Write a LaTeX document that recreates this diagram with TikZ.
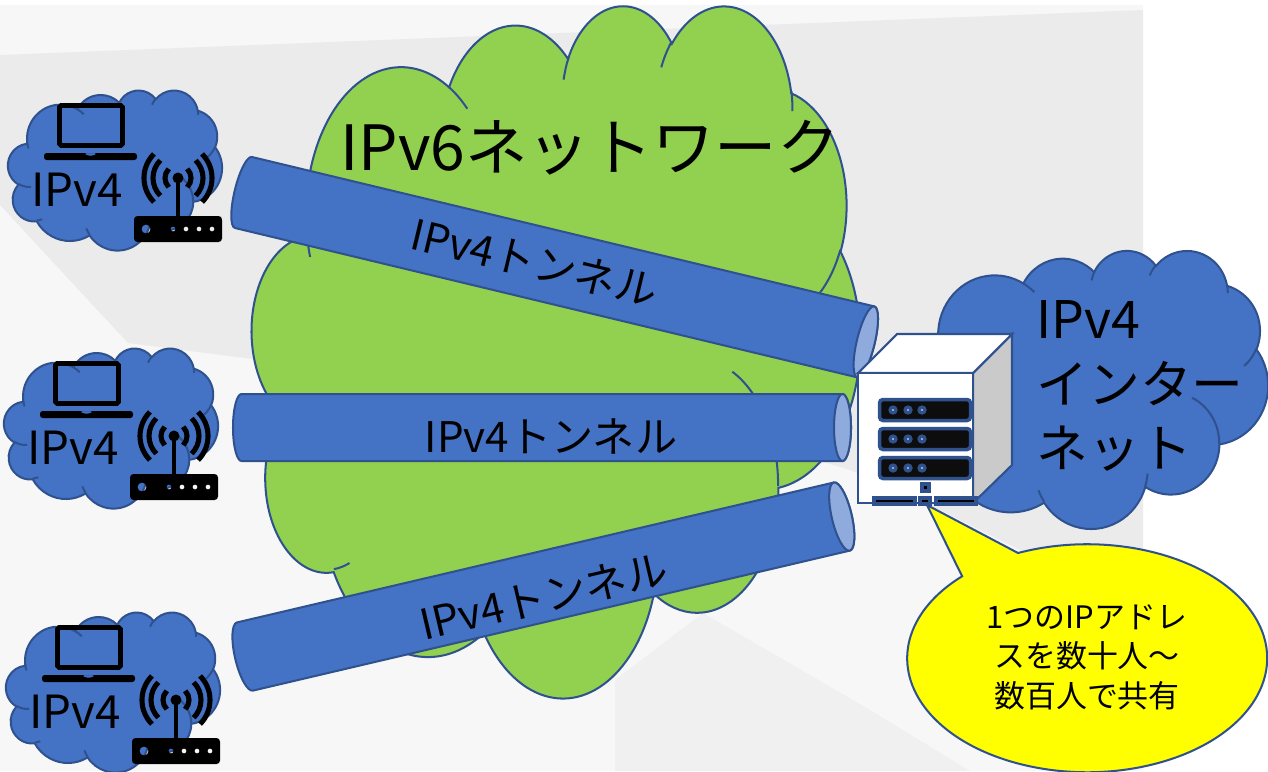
\documentclass[tikz,border=0pt]{standalone}
\usepackage{fontspec}
\setmainfont{Noto Sans CJK JP}
\usetikzlibrary{positioning}

\definecolor{netblue}{HTML}{4472C4}
\definecolor{edgeblue}{HTML}{2F528F}
\definecolor{pipeend}{HTML}{8FAADC}
\definecolor{netgreen}{HTML}{92D050}
\definecolor{bubble}{HTML}{FFFF00}
\definecolor{sideface}{HTML}{CACACA}

\pgfmathdeclarefunction{cloudt}{3}{\pgfmathparse{atan2(#1*sin(#3),#2*cos(#3))}}
\def\cloudarcs{6.753/9.19/-190.4875/123.7805, 5.333/7.267/-144.1024/89.9452,
  4.365/5.945/-145.8079/99.723, 4.857/6.595/-130.9861/117.2417,
  5.333/7.273/-78.7089/109.0269, 6.775/9.22/-46.2673/130.269,
  5.785/7.867/0.625/114.0333, 6.752/9.215/22.4516/115.1726,
  7.72/10.543/66.2426/75.711, 4.36/5.918/-274.9421/146.7356,
  4.345/5.945/-246.8285/152.5189}
\def\cloudticks{4.693/26.177/4.345/5.945/86.742/26.4295,
  6.928/34.899/4.36/5.918/73.6105/11.4475,
  16.478/39.09/6.752/9.215/137.6242/14.0811,
  28.827/34.751/6.752/9.215/6.4533/15.9984,
  34.129/22.954/5.785/7.867/-70.2924/70.9174,
  41.798/15.354/5.333/7.273/30.318/27.7515,
  38.324/5.426/4.857/6.595/-13.7443/14.8589,
  29.078/3.952/4.857/6.595/-149.1815/18.1954,
  22.141/4.72/4.365/5.945/-163.4943/17.6864,
  14/5.192/6.753/9.19/-66.707/12.3194,
  4.127/15.789/6.753/9.19/157.6544/11.8582}

\newcommand{\cloudshape}[5]{
  \begin{scope}[shift={(#1,#2)},xscale=#3/43.2,yscale=#4/43.2]
    \draw[outline, fill=#5] (3.9,14.37)
      \foreach \wr/\hr/\st/\sw in \cloudarcs {
        arc[x radius=\wr, y radius=\hr, start angle={cloudt(\wr,\hr,\st)},
            delta angle={mod(cloudt(\wr,\hr,\st+\sw)-cloudt(\wr,\hr,\st)+720,360)}]
      } -- cycle;
    \foreach \px/\py/\wr/\hr/\st/\sw in \cloudticks {
      \draw[outline] (\px,\py)
        arc[x radius=\wr, y radius=\hr, start angle={cloudt(\wr,\hr,\st)},
            delta angle={mod(cloudt(\wr,\hr,\st+\sw)-cloudt(\wr,\hr,\st)+720,360)}];
    }
  \end{scope}
}

\newcommand{\tunnelpipe}[6]{
  \begin{scope}[shift={(#1,#2)},rotate=#3]
    \draw[outline, fill=netblue] (0,-#5/2) -- (#4,-#5/2)
      arc[x radius=#6, y radius=#5/2, start angle=-90, end angle=90]
      -- (0,#5/2)
      arc[x radius=#6, y radius=#5/2, start angle=90, end angle=270] -- cycle;
    \draw[outline, fill=pipeend] (#4,0) ellipse[x radius=#6, y radius=#5/2];
  \end{scope}
}

\tikzset{
  outline/.style={draw=edgeblue, line width=1.15pt},
  biglabel/.style={inner sep=0pt, font=\fontsize{35.5}{42}\selectfont},
  hostlabel/.style={inner sep=0pt, font=\fontsize{26}{30}\selectfont},
  pipelabel/.style={inner sep=0pt, font=\fontsize{24}{28}\selectfont},
  rack/.style={draw=edgeblue, line width=2pt, fill=black!95, rounded corners=2pt},
  basebar/.style={draw=edgeblue, line width=2pt, fill=black}
}

\begin{document}
\begin{tikzpicture}[x=1pt, y=1pt, xscale=.56906, yscale=-.56906]
  \useasboundingbox (0,0) rectangle (1268,771);
  \fill[white] (0,0) rectangle (1268,771);

  % backdrop
  \fill[black!3] (0,5) rectangle (1143,771);
  \fill[black!8] (0,55) -- (1143,10) -- (1143,620) -- (1040,560) -- (930,505)
    -- (850,470) -- (650,410) -- (128,343) -- (0,205) -- cycle;
  \fill[black!6] (615,771) -- (615,680) -- (703,613) -- (870,710) -- (970,771) -- cycle;

  \cloudshape{906}{250}{362}{278}{netblue}
  \cloudshape{252}{4}{608}{692}{netgreen}

  % the three hosts on the left
  \foreach \name/\dx/\dy in {hostA/0/0, hostB/-4/258, hostC/-2/522} {
    \begin{scope}[shift={(\dx,\dy)}]
      \cloudshape{8}{90}{214}{160}{netblue}
      \draw[line width=2.8pt, rounded corners=1pt] (59.5,105.5) rectangle (122.5,145.5);
      \fill[even odd rule, rounded corners=1.5pt] (44,153) rectangle (137,160)
        (84,153) -- (97,153) -- (95,155.5) -- (86,155.5) -- cycle;
      \fill[even odd rule] [rounded corners=2pt] (134,216) rectangle (222,242)
        [sharp corners] (146,229) circle[radius=4.5]
        (173,229) circle[radius=2.5] (186,229) circle[radius=2.5]
        (199,229) circle[radius=2.5] (212,229) circle[radius=2.5];
      \draw[line width=2.6pt] (178,178) -- (178,216);
      \fill (178,178) circle[radius=5.5];
      \foreach \r in {13,25,34} {
        \draw[line width=2.9pt] (178,178) ++(135:\r) arc[radius=\r, start angle=135, end angle=225];
        \draw[line width=2.9pt] (178,178) ++(-45:\r) arc[radius=\r, start angle=-45, end angle=45];
      }
      \node[hostlabel] (\name) at (77,190) {IPv4};
    \end{scope}
  }

  \node[biglabel] (title) at (590,148) {IPv6ネットワーク};

  \tunnelpipe{243.5}{192.5}{13.5}{640}{73}{9}
  \tunnelpipe{241.5}{427.5}{0}{601}{67}{8.5}
  \tunnelpipe{245}{656.5}{-13.2}{613}{70}{10}
  \node[pipelabel, rotate=-13.5] (pipeA) at (535,262) {IPv4トンネル};
  \node[pipelabel] (pipeB) at (551,436) {IPv4トンネル};
  \node[pipelabel, rotate=13.2] (pipeC) at (544,596) {IPv4トンネル};

  % server box
  \draw[outline, fill=sideface, line width=1.2pt] (973,373) -- (1012,334) -- (1012,465) -- (973,503) -- cycle;
  \draw[outline, fill=white, line width=1.2pt] (858,373) -- (897,334) -- (1012,334) -- (973,373) -- cycle;
  \draw[outline, fill=white, line width=1.2pt] (858,373) rectangle (973,503);
  \foreach \y in {399.5,428.5,457.5} {
    \draw[rack] (879.5,\y) rectangle (970.5,\y+21);
    \foreach \x in {893,908,922} {
      \fill[edgeblue] (\x,\y+10.5) circle[radius=4.7];
      \fill[white] (\x,\y+10.5) circle[radius=.8];
    }
  }
  \draw[basebar] (922,484) rectangle (929,491);
  \draw[basebar] (874,498) rectangle (915,504);
  \draw[basebar] (920,498) rectangle (930,504);
  \draw[basebar] (936,498) rectangle (976,504);

  % speech bubble
  \draw[outline, fill=bubble] (927,505) -- (1018,553)
    arc[x radius=180, y radius=114, start angle=-112.6, end angle=226] -- cycle;
  \node[inner sep=0pt, align=center, font=\fontsize{17.6}{22.4}\selectfont] (note) at (1087,657)
    {1つのIPアドレ\\スを数十人～\\数百人で共有};

  \node[inner sep=0pt, align=left, anchor=west, font=\fontsize{29.5}{36.8}\selectfont] (inet) at (1036,386)
    {IPv4\\インター\\ネット};
\end{tikzpicture}
\end{document}
